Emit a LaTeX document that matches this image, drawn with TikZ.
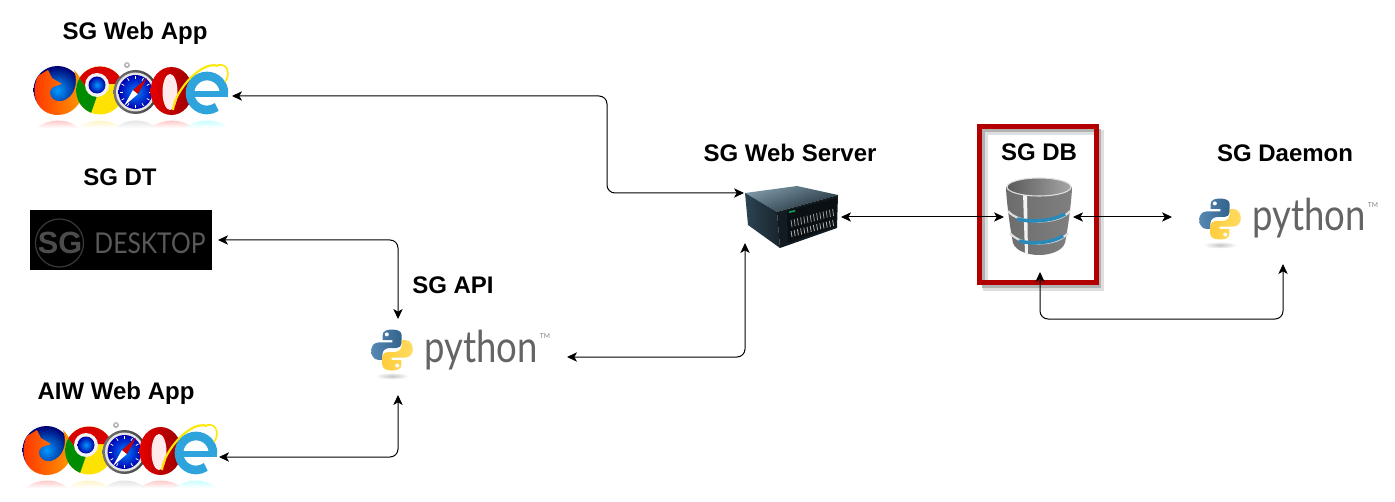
\documentclass[tikz,border=0pt]{standalone}
\usepackage{fontspec}
\setmainfont{Liberation Sans}
\newfontfamily\pyfont{Lato}
\usetikzlibrary{arrows.meta,calc}
\definecolor{pygray}{HTML}{646464}
\definecolor{pyblue}{HTML}{3A74A6}
\definecolor{pyyellow}{HTML}{FFD544}
\definecolor{boxred}{HTML}{B20000}
\definecolor{ieblue}{HTML}{2FA3DC}
\definecolor{srvlight}{HTML}{7E99A8}
\definecolor{srvdark}{HTML}{1E2D38}
\definecolor{srvside}{HTML}{2C4452}
\newcommand{\snakeoutline}{
      (0,-20.5) .. controls (-6,-20.5) and (-9.3,-18.5) .. (-9.3,-15) -- (-9.3,-10) -- (0.3,-10) -- (0.3,-7.6)
      -- (-13,-7.6) .. controls (-18,-7.6) and (-20.8,-4) .. (-20.8,0.8)
      .. controls (-20.8,5.5) and (-18,9.8) .. (-14,9.8) -- (-9.6,9.8) -- (-9.6,4.5)
      .. controls (-9.6,0) and (-6,-2) .. (-2,-2) -- (4.5,-2)
      .. controls (7.5,-2) and (9.6,-4) .. (9.6,-7) -- (9.6,-15)
      .. controls (9.6,-18.5) and (6,-20.5) .. (0,-20.5) -- cycle}
\tikzset{
  x=0.75pt,y=-0.75pt,
  title/.style={font=\bfseries\fontsize{18pt}{21pt}\selectfont,text=black,inner sep=0pt},
  link/.style={draw=black,line width=0.75pt,rounded corners=6pt,
    {Stealth[length=7.5pt,width=7pt,inset=2pt]}-{Stealth[length=7.5pt,width=7pt,inset=2pt]}},
  port/.style={inner sep=0pt,outer sep=0pt,draw=none,fill=none},
  pics/pylogo/.style={code={
    \shade[inner color=gray!45,outer color=white] (0,26) ellipse[x radius=17,y radius=3.5];
    \shade[left color=pyblue!85!white,right color=pyblue!85!black] \snakeoutline;
    \fill[white] (-5.2,-15.6) circle[radius=2];
    \shade[left color=pyyellow!90!orange,right color=pyyellow!85!white] (0,0) [xscale=-1,yscale=-1] \snakeoutline;
    \fill[white] (5.2,15.6) circle[radius=2];
    \node[inner sep=0pt,anchor=base west,text=pygray] (-word) at (32,12)
      {\pyfont\fontsize{33pt}{36pt}\selectfont\scalebox{.83}[1]{python}};
    \node[inner sep=0pt,text=gray] (-tm) at (153,-14) {\pyfont\fontsize{5pt}{6pt}\selectfont TM};
  }},
  pics/browsers/.style={code={
    % reflections
    \foreach \cx/\cc in {-72/red,-30/yellow!80!red,6/gray,42/red,77/cyan}{
      \shade[top color=\cc!28,bottom color=white]
        (\cx-21,38) .. controls (\cx-10,28) and (\cx+10,28) .. (\cx+21,38) -- cycle;
    }
    % firefox
    \shade[inner color=cyan!60!blue,outer color=blue!45!black] (-72.5,0) circle[radius=24];
    \shade[left color=red!65!orange,right color=orange!80!yellow]
      (-92,-14) .. controls (-101,5) and (-92,25) .. (-72,25)
      .. controls (-58,25) and (-47,13) .. (-47,0)
      .. controls (-47,-10) and (-52,-16) .. (-56,-20)
      .. controls (-51,-6) and (-56,8) .. (-68,11)
      .. controls (-78,13) and (-84,2) .. (-77,-3) -- (-68,-6) -- (-78,-12) -- (-82,-20) -- cycle;
    % chrome
    \begin{scope}
      \clip (-30,0.5) circle[radius=24];
      \fill[yellow!85!orange] (-60,-30) rectangle (0,30);
      \fill[green!55!black] (-52,-14) -- (-42,0) -- (-33,6) -- (-40,26) -- (-60,30) -- (-60,-14) -- cycle;
      \fill[red!85!black] (-5,-6) -- (-23,-6) -- (-42,0) -- (-52,-14) -- (-52,-30) -- (0,-30) -- cycle;
    \end{scope}
    \fill[white!90!gray] (-33,-5) circle[radius=12];
    \shade[inner color=cyan!60!blue,outer color=blue!65!black] (-33,-5) circle[radius=8.5];
    % safari
    \shade[top color=gray!50,bottom color=gray!70] (-3,-25) circle[radius=3];
    \fill[white] (-3,-25) circle[radius=1.3];
    \shade[left color=gray!90!black,right color=black!75] (5.5,2) circle[radius=22];
    \fill[gray!20] (5.5,2) circle[radius=19.5];
    \shade[inner color=cyan!50!blue,outer color=blue!70!black] (5.5,2) circle[radius=17];
    \foreach \a in {0,30,...,330}{\draw[white,line width=0.6pt] ($(5.5,2)+(\a:13)$) -- ($(5.5,2)+(\a:16)$);}
    \fill[white] (-6,16) -- (3,0) -- (8,4) -- cycle;
    \fill[red!80!black] (17,-12) -- (3,0) -- (8,4) -- cycle;
    % opera
    \shade[left color=red!90!black,right color=red!60!black] (41.5,1) ellipse[x radius=21,y radius=24];
    \fill[white!92!red] (40,2) ellipse[x radius=7.5,y radius=18];
    % ie
    \draw[yellow!90!orange,line width=1.6pt] (88,-24) .. controls (72,-30) and (45,0) .. (43,20);
    \draw[ieblue,line width=6.5pt] (94,3) arc[start angle=0,end angle=-305,radius=17];
    \fill[ieblue] (64,1) rectangle (98,7);
    \draw[yellow!90!orange,line width=1.2pt] (88,-25) .. controls (99,-27) and (100,-14) .. (95,-8);
  }},
  pics/servericon/.style={code={
    \shade[top color=srvlight,bottom color=srvdark,shading angle=20]
      (0,8) -- (52,1) -- (93,10) -- (32,27) -- cycle;
    \shade[left color=srvside,right color=srvdark!80!black]
      (0,8) -- (32,27) -- (35,63) -- (3,40) -- cycle;
    \fill[srvdark!60!black] (32,27) -- (93,10) -- (92,43) -- (35,63) -- cycle;
    \fill[srvdark!35!black] (42,26) -- (92,13) -- (91,41) -- (43,58) -- cycle;
    \foreach \i in {0,...,13}{
      \draw[gray!75,line width=0.6pt] ({46+3.2*\i},{35-0.85*\i}) -- ({47+3.2*\i},{42-0.85*\i});
      \draw[gray!60,line width=0.6pt] ({46+3.2*\i},{46-0.85*\i}) -- ({47+3.2*\i},{52-0.85*\i});
    }
    \fill[green!50!cyan!70!black] (44,26.5) -- (50,25) -- (50,26.5) -- (44,28) -- cycle;
  }},
  pics/dbicon/.style={code={
    \shade[left color=gray!85!black,middle color=gray!80!black,right color=black!50]
      (-33,0) .. controls (-33,8) and (-30,36) .. (-26,56)
      .. controls (-20,72) and (20,72) .. (26,56)
      .. controls (30,36) and (33,8) .. (33,0) -- cycle;
    \fill[white!90!gray] (-16,6) -- (-12,6) -- (-11,68) -- (-14,67) -- cycle;
    \draw[gray!25,line width=1.6pt] (-31,24) .. controls (-20,38) and (20,38) .. (31,24);
    \draw[gray!25,line width=1.6pt] (-29,46) .. controls (-18,60) and (18,60) .. (29,46);
    \draw[ieblue!85!black,line width=2.6pt] (-22,32) .. controls (-10,35) and (12,35) .. (26,27);
    \draw[ieblue!85!black,line width=2.6pt] (-20,54) .. controls (-8,57) and (10,57) .. (24,49);
    \shade[left color=gray!70!black,right color=gray!70] (0,0) ellipse[x radius=32,y radius=9];
    \draw[gray!25,line width=0.8pt] (0,0) ellipse[x radius=32,y radius=9];
  }}
}
\begin{document}
\begin{tikzpicture}
\useasboundingbox (0,0) rectangle (1395,502);

% red highlight
\draw[gray!25,line width=3.75pt] (985,133) rectangle (1101.5,288.5);
\draw[gray!60,line width=2.25pt] (983.5,131) rectangle (1099.5,286.5);
\draw[boxred,line width=3.75pt] (979.5,127) rectangle (1096,283);

% titles
\node[title] (tWeb) at (135,33) {SG Web App};
\node[title] (tDT) at (120,177) {SG DT};
\node[title] (tAPI) at (453,285) {SG API};
\node[title] (tAIW) at (116,393) {AIW Web App};
\node[title] (tServer) at (790,153) {SG Web Server};
\node[title] (tDB) at (1039,152) {SG DB};
\node[title] (tDaemon) at (1285,153) {SG Daemon};

% icons
\pic (iconWeb) at (130,90) {browsers};
\pic (iconAiw) at (119,450) {browsers};
\pic (iconApi) at (392,350) {pylogo};
\pic (iconDaemon) at (1220,219) {pylogo};
\pic (iconServer) at (745,185) {servericon};
\pic (iconDb) at (1039,187) {dbicon};

% desktop badge
\node[fill=black,minimum width=136.5pt,minimum height=45pt,inner sep=0pt,outer sep=4.5pt] (sgdt) at (121,240) {};
\draw[gray!45!black,line width=0.9pt] (59.5,243) circle[radius=24];
\node[inner sep=0pt,text=gray!60!black] (sgMark) at (60,243) {\bfseries\fontsize{23pt}{26pt}\selectfont SG};
\node[inner sep=0pt,text=gray!70!black] (sgWord) at (150,243) {\pyfont\fontsize{21.5pt}{24pt}\selectfont\scalebox{.86}[1]{DESKTOP}};

% connection points
\node[port,minimum width=153pt,minimum height=1pt] (webapp) at (130,96) {};
\node[port,minimum width=150pt,minimum height=1pt] (aiw) at (119,457) {};
\node[port,minimum width=148.5pt,minimum height=57pt] (api) at (468,357) {};
\coordinate (apiT) at (398,319);
\coordinate (apiB) at (398,395);
\node[port,minimum width=72.75pt,minimum height=40pt] (server) at (792.5,217) {};
\coordinate (serverIn) at (744,193);
\coordinate (serverS) at (745,243);
\coordinate (dbW) at (1004,217);
\coordinate (dbE) at (1073,217);
\coordinate (dbS) at (1040,272);
\coordinate (daemonW) at (1172,217);
\coordinate (daemonS) at (1283,264);
\coordinate (bendA) at (607,150);
\coordinate (bendB) at (1160,319);

% connectors
\draw[link] (webapp.east) -| (bendA) |- (serverIn);
\draw[link] (sgdt.east) -| (apiT);
\draw[link] (aiw.east) -| (apiB);
\draw[link] (api.east) -| (serverS);
\draw[link] (server.east) -- (dbW);
\draw[link] (dbE) -- (daemonW);
\draw[link] (dbS) |- (bendB) -| (daemonS);
\end{tikzpicture}
\end{document}
